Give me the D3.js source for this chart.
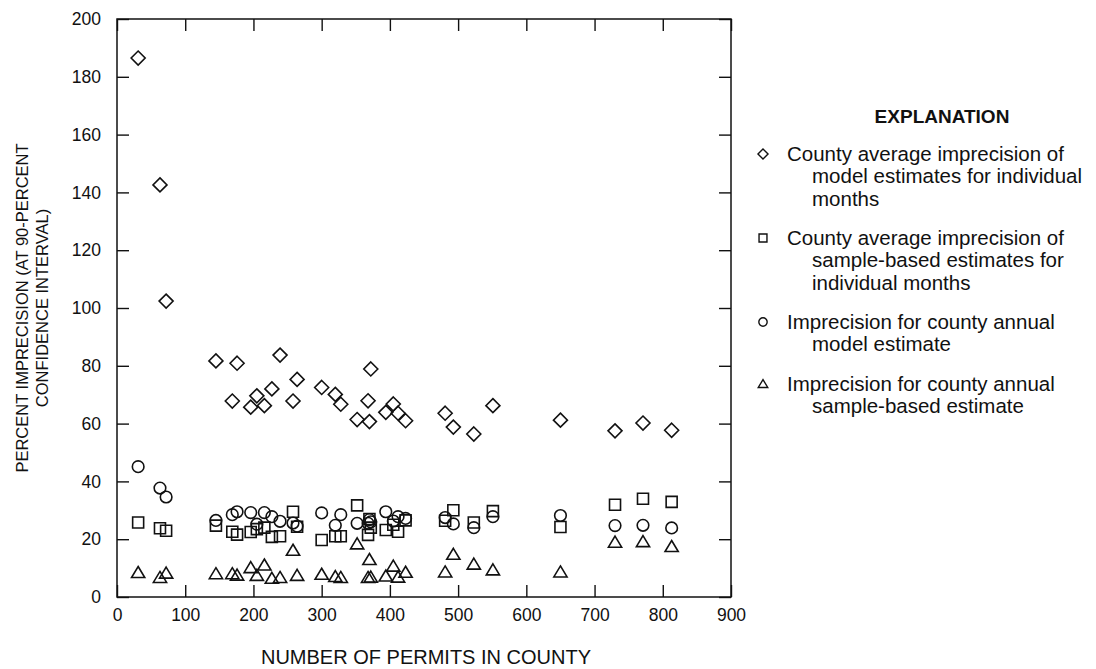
<!DOCTYPE html>
<html>
<head>
<meta charset="utf-8">
<script src="https://cdn.jsdelivr.net/npm/d3@7"></script>
<style>
  html, body { margin: 0; padding: 0; background: #fff; }
  svg { display: block; }
  text { font-family: "Liberation Sans", Arial, Helvetica, sans-serif; fill: #111; }
</style>
</head>
<body>
<svg id="chart" width="1096" height="669"></svg>
<script>
// ---- data ----
const permits = [31, 63, 72, 145, 169, 176, 196, 205, 216, 227, 239, 258, 264, 300, 320, 328, 352, 368, 370, 372, 394, 405, 412, 423, 481, 493, 523, 551, 650, 730, 771, 813];
const modelMonthly = [186.5, 142.6, 102.4, 81.7, 67.8, 80.9, 65.7, 69.6, 66.2, 72, 83.7, 67.8, 75.3, 72.5, 70.1, 66.7, 61.4, 67.9, 60.7, 78.9, 63.9, 66.8, 63.6, 61, 63.6, 58.8, 56.4, 66.2, 61.2, 57.5, 60.2, 57.7];
const sampleMonthly = [25.8, 23.8, 22.9, 24.7, 22.6, 21.6, 22.5, 23.5, 24, 20.8, 21, 29.5, 24.3, 19.7, 21, 21, 31.7, 21.5, 27, 24, 23.2, 25, 22.6, 26.5, 26.4, 30, 25.8, 29.7, 24.2, 31.9, 34, 32.9];
const modelAnnual = [45.1, 37.7, 34.6, 26.5, 28.5, 29.5, 29.2, 25.2, 29.2, 27.8, 26.2, 25.6, 24.5, 29.1, 24.8, 28.5, 25.5, 25.5, 26.8, 26, 29.5, 26.3, 27.8, 27.2, 27.5, 25.3, 24, 27.8, 28.2, 24.7, 24.8, 23.9];
const sampleAnnual = [8.4, 6.7, 8.2, 8, 8, 7.5, 10.1, 7.4, 11, 6.4, 6.7, 16.1, 7.4, 7.8, 7, 6.7, 18.3, 6.7, 12.9, 6.8, 7.2, 10.6, 6.8, 8.5, 8.6, 14.7, 11.3, 9.3, 8.6, 18.9, 19.1, 17.4];

const xTicks = [0, 100, 200, 300, 400, 500, 600, 700, 800, 900];
const yTicks = [0, 20, 40, 60, 80, 100, 120, 140, 160, 180, 200];

const xTitle = "NUMBER OF PERMITS IN COUNTY";
const yTitleLines = ["PERCENT IMPRECISION (AT 90-PERCENT", "CONFIDENCE INTERVAL)"];
const legendTitle = "EXPLANATION";
const legendItems = [
  {shape: "diamond", lines: ["County average imprecision of", "model estimates for individual", "months"]},
  {shape: "square", lines: ["County average imprecision of", "sample-based estimates for", "individual months"]},
  {shape: "circle", lines: ["Imprecision for county annual", "model estimate"]},
  {shape: "triangle", lines: ["Imprecision for county annual", "sample-based estimate"]}
];
const series = [
  {shape: "diamond", values: modelMonthly},
  {shape: "square", values: sampleMonthly},
  {shape: "circle", values: modelAnnual},
  {shape: "triangle", values: sampleAnnual}
];

// ---- layout ----
const L = 117, R = 731, T = 19, B = 597;
const svg = d3.select("#chart");
const x = d3.scaleLinear().domain([0, 900]).range([L, R]);
const y = d3.scaleLinear().domain([0, 200]).range([B, T]);

function shapePath(shape, s) {
  if (shape === "diamond") { const h = 7 * s; return `M0,${-h}L${h},0L0,${h}L${-h},0Z`; }
  if (shape === "square") { const h = 5.5 * s; return `M${-h},${-h}H${h}V${h}H${-h}Z`; }
  if (shape === "circle") { const r = 5.8 * s; return `M${r},0A${r},${r} 0 1,1 ${-r},0A${r},${r} 0 1,1 ${r},0Z`; }
  if (shape === "triangle") { const w = 6.6 * s, t = 6.2 * s, b = 4.8 * s; return `M0,${-t}L${w},${b}L${-w},${b}Z`; }
}

const tickLen = 12;
const axisStyle = g => {
  g.select(".domain").remove();
  g.selectAll(".tick line").attr("stroke", "#111").attr("stroke-width", 1.4);
  g.selectAll(".tick text").style("font-size", "17.5px").attr("fill", "#111");
};

svg.append("g").attr("transform", `translate(0,${B})`)
  .call(d3.axisBottom(x).tickValues(xTicks).tickSize(-tickLen).tickPadding(12).tickFormat(d3.format("d")))
  .call(axisStyle);
svg.append("g").attr("transform", `translate(0,${T})`)
  .call(d3.axisTop(x).tickValues(xTicks).tickSize(-tickLen).tickFormat(""))
  .call(axisStyle);
svg.append("g").attr("transform", `translate(${L},0)`)
  .call(d3.axisLeft(y).tickValues(yTicks).tickSize(-tickLen).tickPadding(16).tickFormat(d3.format("d")))
  .call(axisStyle);
svg.append("g").attr("transform", `translate(${R},0)`)
  .call(d3.axisRight(y).tickValues(yTicks).tickSize(-tickLen).tickFormat(""))
  .call(axisStyle);

svg.append("rect").attr("x", L).attr("y", T).attr("width", R - L).attr("height", B - T)
  .attr("fill", "none").attr("stroke", "#111").attr("stroke-width", 1.5);

series.forEach(s => {
  svg.append("g").selectAll("path").data(s.values).join("path")
    .attr("transform", (d, i) => `translate(${x(permits[i])},${y(d)})`)
    .attr("d", shapePath(s.shape, 1))
    .attr("fill", "none").attr("stroke", "#111").attr("stroke-width", 1.6);
});

svg.append("text").attr("x", (L + R) / 2 + 2).attr("y", 664).attr("text-anchor", "middle")
  .style("font-size", "20px").text(xTitle);
const yt = svg.append("text").attr("transform", `translate(28,${(T + B) / 2}) rotate(-90)`)
  .attr("text-anchor", "middle").style("font-size", "16.5px");
yTitleLines.forEach((ln, i) => yt.append("tspan").attr("x", 0).attr("dy", i === 0 ? 0 : 20).text(ln));

svg.append("text").attr("x", 942).attr("y", 123).attr("text-anchor", "middle")
  .style("font-size", "19px").style("font-weight", "bold").text(legendTitle);
const itemTops = [154, 238, 322, 384];
legendItems.forEach((it, k) => {
  const g = svg.append("g");
  g.append("path").attr("transform", `translate(763,${itemTops[k]})`)
    .attr("d", shapePath(it.shape, 0.72)).attr("fill", "none").attr("stroke", "#111").attr("stroke-width", 1.4);
  it.lines.forEach((ln, i) => {
    g.append("text").attr("x", i === 0 ? 787 : 812).attr("y", itemTops[k] + i * 22.3).attr("dy", "0.35em")
      .style("font-size", "20.5px").text(ln);
  });
});
</script>
</body>
</html>
